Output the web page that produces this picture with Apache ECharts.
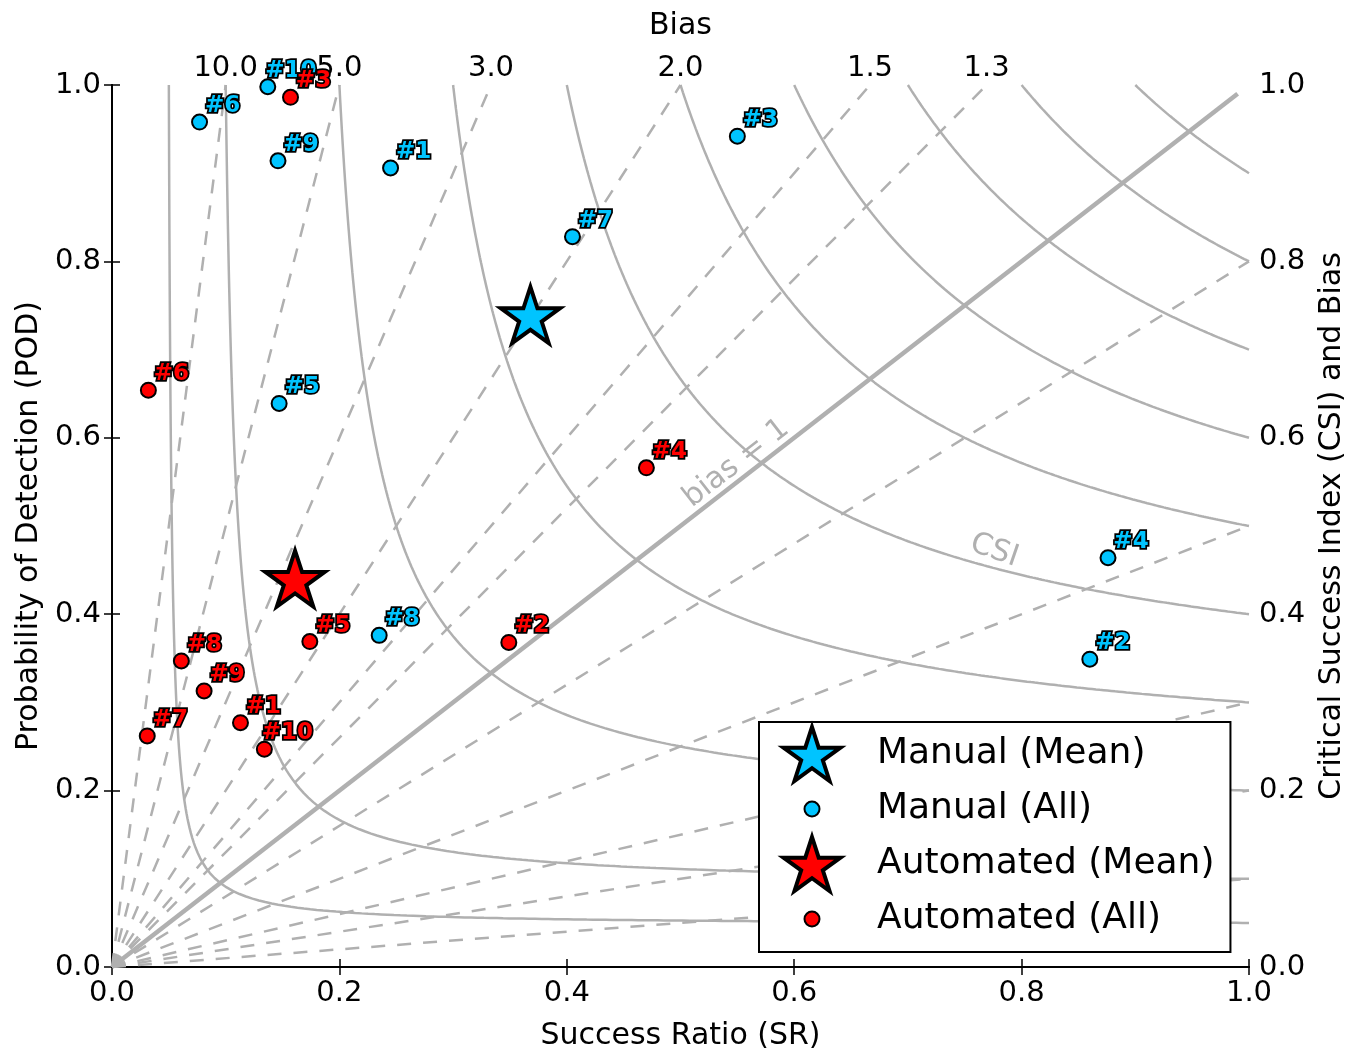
<!DOCTYPE html>
<html>
<head>
<meta charset="utf-8">
<script src="https://cdn.jsdelivr.net/npm/echarts@6/dist/echarts.min.js"></script>
<style>
html,body{margin:0;padding:0;background:#ffffff;}
#chart{width:1358px;height:1051px;}
</style>
</head>
<body>
<div id="chart"></div>
<script>
// ---------------- data ----------------
const pointLabels = ['#1', '#2', '#3', '#4', '#5', '#6', '#7', '#8', '#9', '#10'];
const manualSR = [0.245, 0.860, 0.550, 0.876, 0.147, 0.077, 0.405, 0.235, 0.146, 0.137];
const manualPOD = [0.906, 0.349, 0.942, 0.464, 0.639, 0.958, 0.828, 0.376, 0.914, 0.998];
const automatedSR = [0.113, 0.349, 0.157, 0.470, 0.174, 0.032, 0.031, 0.061, 0.081, 0.134];
const automatedPOD = [0.277, 0.368, 0.986, 0.566, 0.369, 0.654, 0.262, 0.347, 0.313, 0.247];
const manualMean = [0.368, 0.736];
const automatedMean = [0.161, 0.437];
const csiLevels = [0.05, 0.1, 0.2, 0.3, 0.4, 0.5, 0.6, 0.7, 0.8, 0.9];
const biasLevels = [0.1, 0.2, 0.3, 0.5, 0.8, 1.3, 1.5, 2.0, 3.0, 5.0, 10.0];
const biasTickLabels = [10.0, 5.0, 3.0, 2.0, 1.5, 1.3];
const axisTicks = [0, 0.2, 0.4, 0.6, 0.8, 1.0];
const seriesNames = ['Manual (Mean)', 'Manual (All)', 'Automated (Mean)', 'Automated (All)'];
const annotationTexts = ['bias = 1', 'CSI'];
const annotationPos = [[0.549, 0.571], [0.776, 0.472]];

// ---------------- styling helpers ----------------
const FONT = 'DejaVu Sans';
const GRAY = '#b0b0b0';
const BLUE = '#00c4ff';
const RED = '#ff0000';

function starPath(pad) {
  const R = 100, r = R * 0.381966;
  let d = pad ? 'M0 100 ' : '';
  for (let k = 0; k < 10; k++) {
    const a = (-90 + 36 * k) * Math.PI / 180;
    const rad = k % 2 ? r : R;
    d += (k ? 'L' : 'M') + (rad * Math.cos(a)).toFixed(3) + ' ' + (rad * Math.sin(a)).toFixed(3) + ' ';
  }
  return 'path://' + d + 'Z';
}
const STAR = starPath(true);
const LEG_STAR = starPath(false);
const LEG_W = 64, LEG_H = 54;
const LEG_CIRCLE = 'path://M0 0M' + LEG_W + ' ' + LEG_H +
  'M39.5 27A7.5 7.5 0 1 1 24.5 27A7.5 7.5 0 1 1 39.5 27Z';

function csiCurve(c) {
  const s = 2 * c / (1 + c), n = 160, pts = [];
  for (let i = 0; i <= n; i++) {
    const pod = 1 - (1 - s) * i / n;
    pts.push([1 / (1 / c + 1 - 1 / pod), pod]);
  }
  for (let i = 1; i <= n; i++) {
    const sr = s + (1 - s) * i / n;
    pts.push([sr, 1 / (1 / c + 1 - 1 / sr)]);
  }
  return pts;
}
function biasLine(b) {
  return b < 1 ? [[0, 0], [1, b]] : [[0, 0], [1 / b, 1]];
}

const series = [];
csiLevels.forEach(c => series.push({
  type: 'line', data: csiCurve(c), showSymbol: false, symbol: 'none', silent: true, z: 1,
  lineStyle: { color: GRAY, width: 2.5 }, animation: false
}));
biasLevels.forEach(b => series.push({
  type: 'line', data: biasLine(b), showSymbol: false, symbol: 'none', silent: true, z: 1,
  lineStyle: { color: GRAY, width: 2.5, type: [14, 12] }, animation: false
}));
series.push({
  type: 'line', data: [[0, 0], [0.99, 0.99]], showSymbol: false, symbol: 'none', silent: true, z: 1,
  lineStyle: { color: GRAY, width: 4.5 }, animation: false
});
// annotations
series.push({
  type: 'scatter', silent: true, z: 1, symbolSize: 1, itemStyle: { opacity: 0 },
  data: [{ value: annotationPos[0], name: annotationTexts[0], label: { rotate: 37.8 } },
         { value: annotationPos[1], name: annotationTexts[1], label: { rotate: -19 } }],
  label: { show: true, position: 'inside', formatter: '{b}', color: GRAY, fontSize: 30,
           fontFamily: FONT, opacity: 1 },
  animation: false
});

function pts(sr, pod) {
  return sr.map((x, i) => ({ name: pointLabels[i], value: [x, pod[i]] }));
}
function allSeries(name, color, sr, pod) {
  return {
    name: name, type: 'scatter', z: 3, symbol: 'circle', symbolSize: 15,
    itemStyle: { color: color, borderColor: '#000', borderWidth: 2, opacity: 1 },
    data: pts(sr, pod),
    label: {
      show: true, formatter: '{b}', position: [31.5, -7.5], align: 'center', verticalAlign: 'middle',
      color: color, fontSize: 23, fontWeight: 'bold', fontFamily: FONT,
      textBorderColor: '#000', textBorderWidth: 3.5
    },
    animation: false
  };
}
function meanSeries(name, color, m) {
  return {
    name: name, type: 'scatter', z: 4, symbol: STAR, symbolSize: [59, 62],
    itemStyle: { color: color, borderColor: '#000', borderWidth: 4, opacity: 1 },
    data: [m], animation: false
  };
}
series.push(allSeries(seriesNames[1], BLUE, manualSR, manualPOD));
series.push(allSeries(seriesNames[3], RED, automatedSR, automatedPOD));
series.push(meanSeries(seriesNames[0], BLUE, manualMean));
series.push(meanSeries(seriesNames[2], RED, automatedMean));

const biasTickPos = biasTickLabels.map(b => 1 / b);
const tickLabelStyle = { color: '#000', fontSize: 29, fontFamily: FONT };
const nameStyle = { color: '#000', fontSize: 30, fontFamily: FONT };
const axLine = { show: true, lineStyle: { color: '#000', width: 2 } };
const axTick = { show: true, inside: true, length: 8, lineStyle: { color: '#000', width: 1.5 } };

const option = {
  animation: false,
  backgroundColor: '#ffffff',
  grid: { left: 112, right: 109, top: 85, bottom: 84, containLabel: false, outerBoundsMode: 'none' },
  xAxis: [
    { type: 'value', position: 'bottom', min: 0, max: 1, interval: 0.2,
      name: 'Success Ratio (SR)', nameLocation: 'middle', nameGap: 54, nameTextStyle: nameStyle,
      axisLine: axLine, axisTick: axTick, splitLine: { show: false },
      axisLabel: Object.assign({ margin: 12, formatter: v => v.toFixed(1) }, tickLabelStyle) },
    { type: 'value', position: 'top', min: 0, max: 1, interval: 0.2,
      name: 'Bias', nameLocation: 'middle', nameGap: 44, nameTextStyle: nameStyle,
      axisLine: axLine, splitLine: { show: false },
      axisTick: Object.assign({}, axTick, { customValues: axisTicks }),
      axisLabel: Object.assign({
        margin: 2, customValues: biasTickPos,
        formatter: v => {
          const i = biasTickPos.findIndex(p => Math.abs(p - v) < 1e-6);
          return i >= 0 ? biasTickLabels[i].toFixed(1) : '';
        }
      }, tickLabelStyle) }
  ],
  yAxis: [
    { type: 'value', position: 'left', min: 0, max: 1, interval: 0.2,
      name: 'Probability of Detection (POD)', nameLocation: 'middle', nameRotate: 90, nameGap: 68,
      nameTextStyle: nameStyle, axisLine: axLine, axisTick: axTick, splitLine: { show: false },
      axisLabel: Object.assign({ margin: 11, formatter: v => v.toFixed(1) }, tickLabelStyle) },
    { type: 'value', position: 'right', min: 0, max: 1, interval: 0.2,
      name: 'Critical Success Index (CSI) and Bias', nameLocation: 'middle', nameRotate: 90, nameGap: 68,
      nameTextStyle: nameStyle, axisLine: axLine, axisTick: axTick, splitLine: { show: false },
      axisLabel: Object.assign({ margin: 10, formatter: v => v.toFixed(1) }, tickLabelStyle) }
  ],
  legend: {
    show: true, orient: 'vertical', left: 759, top: 722, selectedMode: false,
    itemWidth: LEG_W, itemHeight: LEG_H, itemGap: -2,
    padding: [3, 16, 5, 20],
    backgroundColor: '#ffffff', borderColor: '#000', borderWidth: 2, borderRadius: 0,
    textStyle: { color: '#000', fontSize: 36, fontFamily: FONT, padding: [0, 0, 0, 28] },
    data: [
      { name: seriesNames[0], icon: LEG_STAR, itemStyle: { color: BLUE, borderColor: '#000', borderWidth: 4 } },
      { name: seriesNames[1], icon: LEG_CIRCLE, itemStyle: { color: BLUE, borderColor: '#000', borderWidth: 2 } },
      { name: seriesNames[2], icon: LEG_STAR, itemStyle: { color: RED, borderColor: '#000', borderWidth: 4 } },
      { name: seriesNames[3], icon: LEG_CIRCLE, itemStyle: { color: RED, borderColor: '#000', borderWidth: 2 } }
    ]
  },
  series: series
};

const chart = echarts.init(document.getElementById('chart'), null, { renderer: 'canvas' });
chart.setOption(option);
</script>
</body>
</html>
